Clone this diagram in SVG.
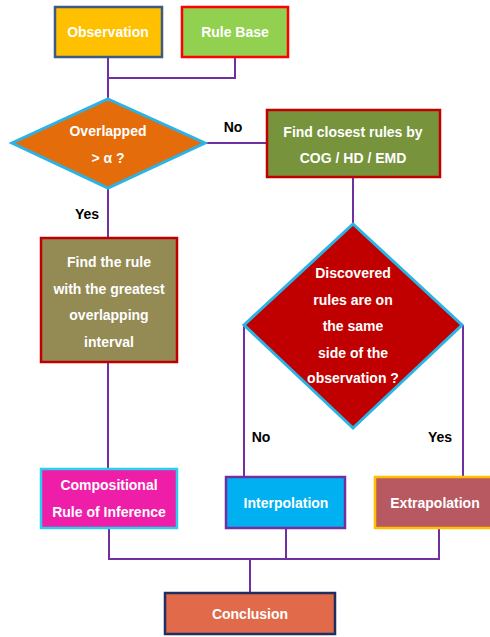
<svg xmlns="http://www.w3.org/2000/svg" width="490" height="637" viewBox="0 0 490 637">
<style>
.t{font-family:"Liberation Sans",Arial,sans-serif;font-weight:bold;font-size:14px;fill:#ffffff;text-anchor:middle}
.l{font-family:"Liberation Sans",Arial,sans-serif;font-weight:bold;font-size:14px;fill:#000000;text-anchor:middle}
.c{fill:none;stroke:#7030a0;stroke-width:2}
</style>
<rect width="490" height="637" fill="#ffffff"/>
<g id="connectors">
<path class="c" d="M108 57 V99"/>
<path class="c" d="M235 57 V78 H108"/>
<path class="c" d="M205 143 H267"/>
<path class="c" d="M353 177 V224"/>
<path class="c" d="M108 188 V237"/>
<path class="c" d="M108 362 V469"/>
<path class="c" d="M244 325 V477"/>
<path class="c" d="M463 325 V477"/>
<path class="c" d="M109 528 V559 H439 V528"/>
<path class="c" d="M286 528 V559"/>
<path class="c" d="M250 559 V593"/>
</g>
<g id="labels">
<text class="l" x="233" y="132">No</text>
<text class="l" x="87" y="219">Yes</text>
<text class="l" x="261" y="442">No</text>
<text class="l" x="440" y="442">Yes</text>
</g>
<g id="observation">
<rect x="55" y="7" width="107" height="50" fill="#ffc000" stroke="#3b5a86" stroke-width="2.5"/>
<text class="t" x="108" y="37">Observation</text>
</g>
<g id="rule-base">
<rect x="182" y="7" width="106" height="50" fill="#92d050" stroke="#ff0000" stroke-width="2.5"/>
<text class="t" x="235" y="37">Rule Base</text>
</g>
<g id="overlapped">
<polygon points="108,99 205,143 108,188 12,143" fill="#e46c0a" stroke="#2ab4e6" stroke-width="3"/>
<text class="t" x="108" y="136">Overlapped</text>
<text class="t" x="108" y="163">&gt; α ?</text>
</g>
<g id="find-closest">
<rect x="267" y="110" width="173" height="67" fill="#77933c" stroke="#c00000" stroke-width="2.5"/>
<text class="t" x="353" y="137">Find closest rules by</text>
<text class="t" x="353" y="163">COG / HD / EMD</text>
</g>
<g id="find-rule">
<rect x="41" y="238" width="136" height="124" fill="#948a54" stroke="#c00000" stroke-width="2.5"/>
<text class="t" x="109" y="267">Find the rule</text>
<text class="t" x="109" y="294">with the greatest</text>
<text class="t" x="109" y="320">overlapping</text>
<text class="t" x="109" y="347">interval</text>
</g>
<g id="discovered">
<polygon points="353,224 462,325 353,428 244,325" fill="#c00000" stroke="#2ab4e6" stroke-width="3"/>
<text class="t" x="353" y="278">Discovered</text>
<text class="t" x="353" y="305">rules are on</text>
<text class="t" x="353" y="331">the same</text>
<text class="t" x="353" y="358">side of the</text>
<text class="t" x="353" y="383">observation ?</text>
</g>
<g id="compositional">
<rect x="41" y="469" width="136" height="59" fill="#ef1ea8" stroke="#2ad0ea" stroke-width="2.5"/>
<text class="t" x="109" y="490">Compositional</text>
<text class="t" x="109" y="517">Rule of Inference</text>
</g>
<g id="interpolation">
<rect x="226" y="477" width="119" height="51" fill="#00b0f0" stroke="#7030a0" stroke-width="2.5"/>
<text class="t" x="286" y="508">Interpolation</text>
</g>
<g id="extrapolation">
<rect x="375" y="477" width="120" height="51" fill="#b85860" stroke="#ffc000" stroke-width="2.5"/>
<text class="t" x="435" y="508">Extrapolation</text>
</g>
<g id="conclusion">
<rect x="165" y="593" width="170" height="41" fill="#e06a4a" stroke="#1f2f5f" stroke-width="2.5"/>
<text class="t" x="250" y="619">Conclusion</text>
</g>
</svg>
